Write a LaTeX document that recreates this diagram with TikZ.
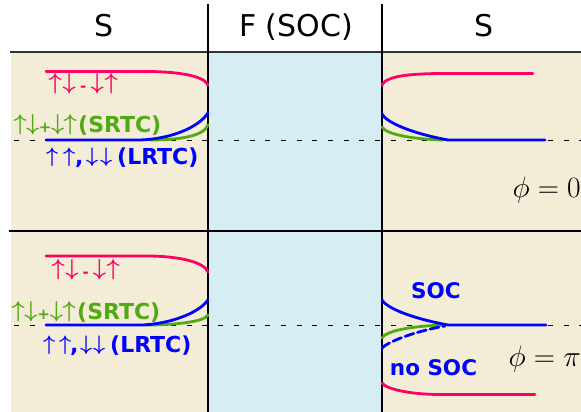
\RequirePackage{fix-cm}
\documentclass[tikz,border=0pt]{standalone}
\usepackage{fontspec}
\setmainfont{DejaVu Sans}

\definecolor{sand}{RGB}{243,236,214}
\definecolor{ice}{RGB}{214,237,243}
\definecolor{rose}{RGB}{255,0,102}
\definecolor{leaf}{RGB}{80,170,20}
\definecolor{deepblue}{RGB}{0,0,255}

% spin arrows, slightly raised to sit on the text baseline
\newcommand\spinup{\raisebox{2pt}{\fontsize{23}{25}\selectfont$\uparrow$}}
\newcommand\spindn{\raisebox{2pt}{\fontsize{23}{25}\selectfont$\downarrow$}}
\newcommand\spinupsm{\raisebox{2pt}{\fontsize{21}{23}\selectfont$\uparrow$}}
\newcommand\spindnsm{\raisebox{2pt}{\fontsize{21}{23}\selectfont$\downarrow$}}
% small signs between the spin pairs
\newcommand\sign[1]{{\fontsize{15}{17}\selectfont #1}}
\newcommand\slot[1]{\makebox[0pt]{#1}}

\begin{document}
\begin{tikzpicture}[x=1pt,y=-1pt,
  header/.style={anchor=base,inner sep=0pt,font=\fontsize{30}{34}\selectfont},
  spinlabel/.style={anchor=base west,inner sep=0pt,
    font=\fontsize{22}{24}\selectfont\bfseries\boldmath},
  tag/.style={anchor=base,inner sep=0pt,text=deepblue,
    font=\fontsize{21.5}{24}\selectfont\bfseries},
  phase/.style={anchor=base east,inner sep=0pt,font=\fontsize{29.5}{33}\selectfont},
  level/.style={line width=2.8pt,line cap=round},
  fermi/.style={line width=0.9pt,dash pattern=on 5pt off 10.7pt},
  divider/.style={line width=1.2pt}]
\useasboundingbox (0,0) rectangle (581,412);

% regions: superconductor | ferromagnet | superconductor
\fill[sand] (11,53) rectangle (208,412);
\fill[ice]  (208,53) rectangle (382,412);
\fill[sand] (382,53) rectangle (581,412);

% frame
\draw[line width=1.3pt,black!80] (10,52) -- (581,52);
\draw[line width=2pt] (9,231) -- (581,231);
\draw[divider] (208,4) -- (208,412);
\draw[divider] (382,4) -- (382,412);

% column headings
\node[header] (hl) at (104,37) {S};
\node[header] (hm) at (296,37) {F (SOC)};
\node[header] (hr) at (484,37) {S};

% Fermi levels
\coordinate (fa) at (14,140);
\coordinate (fb) at (581,140);
\coordinate (fc) at (14,325);
\coordinate (fd) at (581,325);
\draw[fermi] (fa) -- (fb);
\draw[fermi] (fc) -- (fd);

% ---------- phi = 0 ----------
% left electrode
\draw[level,rose] (46,71.5) -- (150,71.5) .. controls (180,72) and (204,76) .. (208,85);
\draw[level,leaf] (150,140) .. controls (180,140) and (204,136) .. (208,125);
\draw[level,deepblue] (46,140) -- (140,140) .. controls (170,139) and (198,128) .. (208,113);
% right electrode
\draw[level,rose] (382,85) .. controls (386,76) and (410,73.5) .. (445,73.5) -- (533,73.5);
\draw[level,leaf] (382,127) .. controls (386,134) and (410,139) .. (443,140);
\draw[level,deepblue] (382,114) .. controls (386,122) and (410,133) .. (448,140) -- (545,140);

\node[spinlabel,text=rose] (p1) at (55,92)
  {\slot{\spinup}\hspace{14pt}\slot{\spindn}\hspace{14pt}\slot{\sign{-}}\hspace{14pt}\slot{\spindn}\hspace{14pt}\slot{\spinup}};
\node[spinlabel,text=leaf] (g1) at (20,132)
  {\slot{\spinup}\hspace{12.5pt}\slot{\spindn}\hspace{12.5pt}\slot{\sign{+}}\hspace{12.5pt}\slot{\spindn}\hspace{12.5pt}\slot{\spinup}\hspace{8pt}(SRTC)};
\node[spinlabel,text=deepblue] (b1) at (52,164)
  {\slot{\spinupsm}\hspace{17pt}\slot{\spinupsm}\hspace{10pt}\slot{,}\hspace{13pt}\slot{\spindnsm}\hspace{14pt}\slot{\spindnsm}\hspace{11pt}(LRTC)};
\node[phase] (ph0) at (581,197) {$\phi=0$};

% ---------- phi = pi ----------
% left electrode
\draw[level,rose] (46,256) -- (150,256) .. controls (180,256.5) and (204,262) .. (208,272);
\draw[level,leaf] (145,325) .. controls (175,325) and (204,322) .. (208,315);
\draw[level,deepblue] (46,325) -- (142,325) .. controls (168,324) and (198,314) .. (208,300);
% right electrode
\draw[level,rose] (382,383) .. controls (386,389) and (410,394.5) .. (440,394.5) -- (535,394.5);
\draw[level,leaf] (382,338) .. controls (386,331) and (410,326) .. (445,325);
\draw[level,deepblue,dash pattern=on 9pt off 4pt] (382,348) .. controls (388,342) and (412,332) .. (445,326);
\draw[level,deepblue] (382,300) .. controls (385,306) and (405,317) .. (448,325) -- (546,325);

\node[spinlabel,text=rose] (p2) at (58,277)
  {\slot{\spinup}\hspace{13.75pt}\slot{\spindn}\hspace{13.75pt}\slot{\sign{-}}\hspace{13.75pt}\slot{\spindn}\hspace{13.75pt}\slot{\spinup}};
\node[spinlabel,text=leaf] (g2) at (18,319)
  {\slot{\spinup}\hspace{12.75pt}\slot{\spindn}\hspace{12.75pt}\slot{\sign{+}}\hspace{12.75pt}\slot{\spindn}\hspace{12.75pt}\slot{\spinup}\hspace{8pt}(SRTC)};
\node[spinlabel,text=deepblue] (b2) at (49,352)
  {\slot{\spinupsm}\hspace{16pt}\slot{\spinupsm}\hspace{9pt}\slot{,}\hspace{12pt}\slot{\spindnsm}\hspace{13pt}\slot{\spindnsm}\hspace{11pt}(LRTC)};
\node[tag] (soc) at (436,298) {SOC};
\node[tag] (nosoc) at (433.5,375) {no SOC};
\node[phase] (phpi) at (581,366) {$\phi=\pi$};
\end{tikzpicture}
\end{document}
